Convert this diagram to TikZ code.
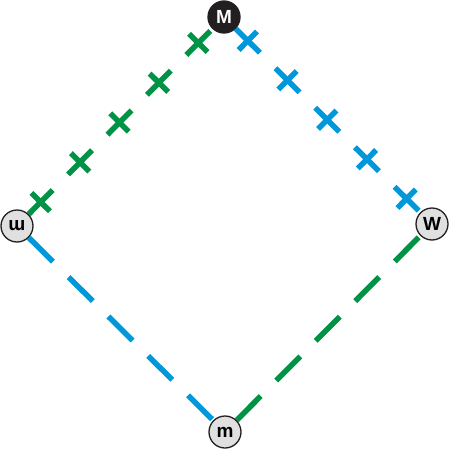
\documentclass[tikz,border=0pt]{standalone}
\usepackage{fontspec}
\setmainfont{Liberation Sans}
\usetikzlibrary{decorations.markings}
\definecolor{lineblue}{RGB}{0,152,218}
\definecolor{linegreen}{RGB}{0,146,69}
\definecolor{nodegray}{RGB}{224,224,224}
\definecolor{nodeblack}{RGB}{35,31,32}
\tikzset{
  vtx/.style = {circle, draw=nodeblack, line width=1.3pt, fill=nodegray, minimum size=32pt, inner sep=0pt, font=\bfseries\fontsize{19}{19}\selectfont},
  vtx_top/.style = {vtx, fill=nodeblack, text=white},
  dashlink/.style = {line width=5.5pt, dash pattern=on 34pt off 22pt},
  crosslink/.style = {dashlink, #1, postaction={decorate, decoration={markings,
    mark=between positions 17pt and 1 step 56pt with {\draw[solid, line width=5.5pt, #1] (0,-13pt) -- (0,13pt);}}}}
}
\begin{document}
\begin{tikzpicture}[x=1pt, y=-1pt]
  \useasboundingbox (0,0) rectangle (450,450);

  \node [vtx_top] (topM) at (224,17) {M};
  \node [vtx, rotate=180] (leftm) at (17,226) {m};
  \node [vtx] (rightW) at (432,224) {W};
  \node [vtx] (bottomm) at (225,432) {m};

  % upper edges carry the crosses
  \draw [crosslink=linegreen] (leftm) -- (topM);
  \draw [crosslink=lineblue] (topM) -- (rightW);
  % lower edges are only dashed
  \draw [dashlink, lineblue] (leftm) -- (bottomm);
  \draw [dashlink, linegreen] (bottomm) -- (rightW);
\end{tikzpicture}
\end{document}
